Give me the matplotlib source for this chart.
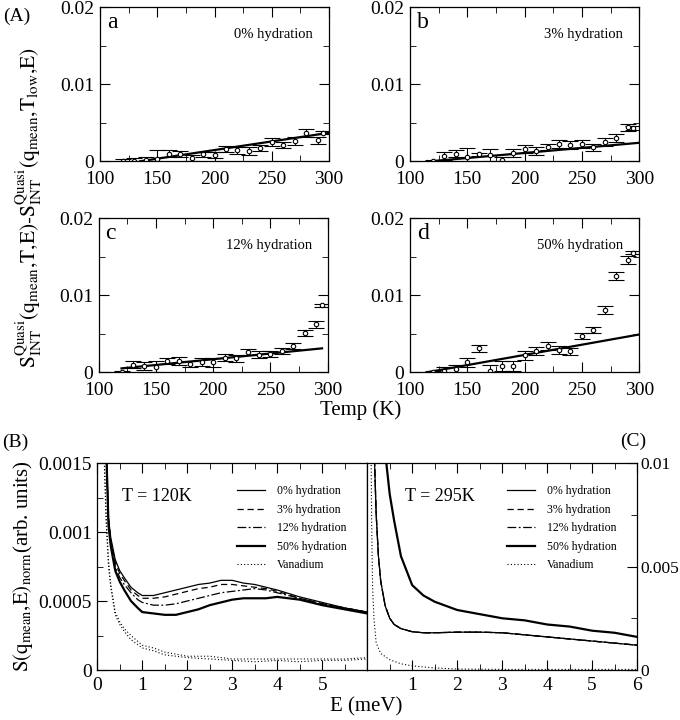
import numpy as np
import matplotlib
matplotlib.use('Agg')
import matplotlib.pyplot as plt
from matplotlib.ticker import MultipleLocator

plt.rcParams['font.family'] = ['Liberation Serif', 'DejaVu Serif']
plt.rcParams['mathtext.fontset'] = 'stix'

# ---- (A) 积分准弹性强度 vs 温度 ----
temps = [120, 130, 140, 150, 160, 170, 180, 190, 200, 210, 220, 230, 240, 250, 260, 270, 280, 290, 295]
hyd_labels = ['0% hydration', '3% hydration', '12% hydration', '50% hydration']
panel_letters = ['a', 'b', 'c', 'd']

s_0 = [0, 0, 0.0002, 0.0003, 0.0010, 0.0009, 0.0004, 0.0009, 0.0008, 0.0016, 0.0014, 0.0013,
       0.0017, 0.0025, 0.0021, 0.0026, 0.0037, 0.0027, 0.0037]
s_3 = [0, 0.0007, 0.0010, 0.0006, 0.0009, 0.0008, 0.0002, 0.0011, 0.0016, 0.0013, 0.0019, 0.0022,
       0.0021, 0.0022, 0.0018, 0.0025, 0.0030, 0.0044, 0.0043]
s_12 = [0, 0.0010, 0.0008, 0.0007, 0.0015, 0.0015, 0.0011, 0.0013, 0.0013, 0.0019, 0.0018, 0.0026,
        0.0023, 0.0024, 0.0028, 0.0034, 0.0051, 0.0062, 0.0087]
s_50 = [0, 0.0002, 0.0004, 0.0013, 0.0031, 0.0001, 0.0008, 0.0008, 0.0022, 0.0028, 0.0034, 0.0029,
        0.0027, 0.0047, 0.0055, 0.0081, 0.0125, 0.0146, 0.0155]
err_0 = [0.0003, 0.0004, 0.0004, 0.0012, 0.0005, 0.0004, 0.0004, 0.0003, 0.0004, 0.0004, 0.0004, 0.0005,
         0.0004, 0.0005, 0.0004, 0.0005, 0.0005, 0.0005, 0.0002]
err_3 = [0.0002, 0.0005, 0.0005, 0.0011, 0.0002, 0.0008, 0.0004, 0.0005, 0.0005, 0.0005, 0.0004, 0.0005,
         0.0005, 0.0005, 0.0005, 0.0005, 0.0005, 0.0005, 0.0003]
err_12 = [0.0002, 0.0005, 0.0005, 0.0007, 0.0004, 0.0005, 0.0004, 0.0005, 0.0006, 0.0005, 0.0005, 0.0004,
          0.0004, 0.0004, 0.0004, 0.0004, 0.0004, 0.0004, 0.0002]
err_50 = [0.0001, 0.0005, 0.0005, 0.0006, 0.0005, 0.0008, 0.0007, 0.0006, 0.0006, 0.0005, 0.0005, 0.0005,
          0.0005, 0.0004, 0.0004, 0.0005, 0.0005, 0.0005, 0.0002]
series = [s_0, s_3, s_12, s_50]
errors = [err_0, err_3, err_12, err_50]

# 线性拟合端点
fit_T = [[135, 300], [118, 300], [120, 295], [115, 300]]
fit_y = [[0, 0.0037], [0, 0.0024], [0.0005, 0.0031], [0, 0.0049]]

# ---- (B) T = 120K 谱 ----
e_b = [0.2, 0.25, 0.3, 0.4, 0.5, 0.6, 0.75, 0.9, 1.0, 1.25, 1.5, 1.75, 2.0, 2.25, 2.5, 2.75,
       3.0, 3.25, 3.5, 3.75, 4.0, 4.5, 5.0, 5.5, 6.0]
b_0 = [0.0016, 0.0011, 0.00096, 0.0008, 0.00072, 0.00067, 0.0006, 0.00056, 0.00054, 0.00054, 0.00056,
       0.00058, 0.0006, 0.00062, 0.00063, 0.00065, 0.00065, 0.00063, 0.00062, 0.0006, 0.00058, 0.00053,
       0.00049, 0.00045, 0.00042]
b_3 = [0.0016, 0.0011, 0.00094, 0.00078, 0.0007, 0.00065, 0.00058, 0.00054, 0.00052, 0.00052, 0.00053,
       0.00055, 0.00057, 0.00059, 0.0006, 0.00062, 0.00062, 0.00061, 0.0006, 0.00059, 0.00057, 0.00052,
       0.00048, 0.00045, 0.00042]
b_12 = [0.0016, 0.00108, 0.00092, 0.00075, 0.00067, 0.00062, 0.00056, 0.00051, 0.00049, 0.00047, 0.00047,
        0.00048, 0.0005, 0.00052, 0.00054, 0.00056, 0.00057, 0.00058, 0.00059, 0.00058, 0.00056, 0.00052,
        0.00048, 0.00045, 0.00042]
b_50 = [0.0016, 0.00105, 0.0009, 0.00072, 0.00064, 0.00058, 0.0005, 0.00045, 0.00042, 0.00041, 0.0004,
        0.0004, 0.00042, 0.00044, 0.00047, 0.00049, 0.00051, 0.00052, 0.00052, 0.00052, 0.00053, 0.00051,
        0.00047, 0.00044, 0.00041]
e_vb = [0.15, 0.2, 0.25, 0.3, 0.4, 0.5, 0.6, 0.75, 1.0, 1.25, 1.5, 2.0, 2.5, 3.0, 3.5, 4.0, 4.5, 5.0, 5.5, 6.0]
vb_1 = [0.0016, 0.0011, 0.0008, 0.00062, 0.00042, 0.00035, 0.0003, 0.00025, 0.00018, 0.00016, 0.00013,
        0.0001, 0.0001, 0.00008, 0.00008, 0.00008, 0.00008, 0.00008, 0.00008, 0.00009]
vb_2 = [0.0016, 0.00105, 0.00075, 0.0006, 0.0004, 0.00033, 0.00028, 0.00022, 0.00016, 0.00014, 0.00011,
        0.00009, 0.00008, 0.00007, 0.00006, 0.00007, 0.00006, 0.00007, 0.00007, 0.00008]

# ---- (C) T = 295K 谱 ----
e_c = [0.12, 0.15, 0.2, 0.25, 0.3, 0.4, 0.5, 0.6, 0.75, 1.0, 1.25, 1.5, 2.0, 2.5, 3.0, 3.5, 4.0, 4.5,
       5.0, 5.5, 6.0]
c_low = [0.015, 0.011, 0.0075, 0.0055, 0.0043, 0.0031, 0.0025, 0.0022, 0.002, 0.00185, 0.0018, 0.0018,
         0.00183, 0.00183, 0.0018, 0.0017, 0.0016, 0.0015, 0.0014, 0.0013, 0.0012]
e_c50 = [0.35, 0.4, 0.5, 0.6, 0.75, 1.0, 1.25, 1.5, 2.0, 2.5, 3.0, 3.5, 4.0, 4.5, 5.0, 5.5, 6.0]
c_50 = [0.012, 0.0105, 0.0085, 0.0072, 0.0055, 0.0041, 0.0036, 0.0033, 0.0029, 0.0027, 0.0025, 0.0024,
        0.0022, 0.0021, 0.0019, 0.0018, 0.0016]
e_vc = [0.08, 0.1, 0.12, 0.15, 0.2, 0.3, 0.5, 0.75, 1.0, 1.5, 2.0, 3.0, 4.0, 5.0, 6.0]
vc = [0.012, 0.007, 0.004, 0.0025, 0.0013, 0.0008, 0.0005, 0.0003, 0.0002, 0.0001, 0.00005, 0.00003,
      0.00003, 0.00003, 0.00003]

fig = plt.figure(figsize=(6.8, 7.2), dpi=100)


def style_axes(ax):
    ax.tick_params(which='both', direction='in', top=True, right=True, labelsize=14)
    ax.tick_params(which='major', length=7)
    ax.tick_params(which='minor', length=4)
    ax.tick_params(axis='x', pad=7)
    ax.tick_params(axis='y', pad=4)
    for sp in ax.spines.values():
        sp.set_linewidth(0.9)


# 四个温度面板
pos = [(0.147, 0.776), (0.603, 0.776), (0.145, 0.483), (0.603, 0.483)]
for i in range(4):
    ax = fig.add_axes([pos[i][0], pos[i][1], 0.337, 0.214])
    ax.errorbar(temps, series[i], yerr=errors[i], fmt='o', ms=3.2, mfc='white', mec='black',
                mew=0.8, ecolor='black', elinewidth=0.7, capsize=5.5, capthick=1.0, color='black')
    ax.plot(fit_T[i], fit_y[i], 'k-', lw=1.6)
    ax.set_xlim(100, 300)
    ax.set_ylim(0, 0.02)
    ax.xaxis.set_major_locator(MultipleLocator(50))
    ax.xaxis.set_minor_locator(MultipleLocator(25))
    ax.set_yticks([0, 0.01, 0.02])
    ax.set_yticklabels(['0', '0.01', '0.02'])
    ax.yaxis.set_minor_locator(MultipleLocator(0.005))
    style_axes(ax)
    ax.text(0.03, 0.9, panel_letters[i], transform=ax.transAxes, fontsize=17, va='center')
    ax.text(0.93, 0.82, hyd_labels[i], transform=ax.transAxes, fontsize=10.5, ha='right', va='center')

fig.text(0.005, 0.977, '(A)', fontsize=14, va='center')
fig.text(0.043, 0.712,
         r'$\mathrm{S_{INT}^{Quasi}(q_{mean}{,}T{,}E)\text{-}S_{INT}^{Quasi}(q_{mean}{,}T_{low}{,}E)}$',
         rotation=90, fontsize=15.5, ha='center', va='center')
fig.text(0.53, 0.43, 'Temp (K)', fontsize=15, ha='center', va='center')

# (B) 面板
axB = fig.add_axes([0.143, 0.0694, 0.397, 0.2875])
line_styles = [dict(ls='-', lw=0.9), dict(ls=(0, (5, 3)), lw=0.9),
               dict(ls=(0, (7, 2, 1.5, 2)), lw=0.9), dict(ls='-', lw=1.6)]
for y, st, lab in zip([b_0, b_3, b_12, b_50], line_styles, hyd_labels):
    axB.plot(e_b, y, color='black', label=lab, **st)
axB.plot(e_vb, vb_1, color='black', ls=(0, (1, 2)), lw=0.8, label='Vanadium')
axB.plot(e_vb, vb_2, color='black', ls=(0, (1, 2)), lw=0.8)
axB.set_xlim(0, 6)
axB.set_ylim(0, 0.0015)
axB.set_xticks([0, 1, 2, 3, 4, 5])
axB.set_xticklabels(['0', '1', '2', '3', '4', '5'])
axB.xaxis.set_minor_locator(MultipleLocator(0.5))
axB.set_yticks([0, 0.0005, 0.001, 0.0015])
axB.set_yticklabels(['0', '0.0005', '0.001', '0.0015'])
axB.yaxis.set_minor_locator(MultipleLocator(0.00025))
style_axes(axB)
axB.tick_params(axis='x', pad=5)
axB.tick_params(which='both', right=False)
axB.text(0.09, 0.84, 'T = 120K', transform=axB.transAxes, fontsize=13, va='center')
axB.legend(loc='upper left', bbox_to_anchor=(0.5, 0.915), frameon=False, fontsize=8.5,
           handlelength=2.4, labelspacing=0.55, handletextpad=1.0, borderaxespad=0)
axB.set_ylabel(r'$\mathrm{S(q_{mean}{,}E)_{norm}}$(arb. units)', fontsize=15, labelpad=2)

# (C) 面板
axC = fig.add_axes([0.540, 0.0694, 0.397, 0.2875])
for st, lab in zip(line_styles[:3], hyd_labels[:3]):
    axC.plot(e_c, c_low, color='black', label=lab, **st)
axC.plot(e_c50, c_50, color='black', label=hyd_labels[3], **line_styles[3])
axC.plot(e_vc, vc, color='black', ls=(0, (1, 2)), lw=0.8, label='Vanadium')
axC.set_xlim(0, 6)
axC.set_ylim(0, 0.01)
axC.set_xticks([1, 2, 3, 4, 5, 6])
axC.xaxis.set_minor_locator(MultipleLocator(0.5))
axC.set_yticks([0, 0.005, 0.01])
axC.set_yticklabels(['0', '0.005', '0.01'])
axC.yaxis.set_minor_locator(MultipleLocator(0.0025))
style_axes(axC)
axC.tick_params(axis='x', pad=5)
axC.tick_params(which='both', left=False, labelleft=False, labelright=True)
axC.tick_params(axis='y', pad=2, labelsize=12.5)
axC.text(0.14, 0.84, 'T = 295K', transform=axC.transAxes, fontsize=13, va='center')
axC.legend(loc='upper left', bbox_to_anchor=(0.5, 0.915), frameon=False, fontsize=8.5,
           handlelength=2.4, labelspacing=0.55, handletextpad=1.0, borderaxespad=0)

fig.text(0.003, 0.385, '(B)', fontsize=14, va='center')
fig.text(0.912, 0.387, '(C)', fontsize=14, va='center')
fig.text(0.538, 0.018, 'E (meV)', fontsize=15, ha='center', va='center')

fig.savefig('out.png', dpi=100, facecolor='white')
